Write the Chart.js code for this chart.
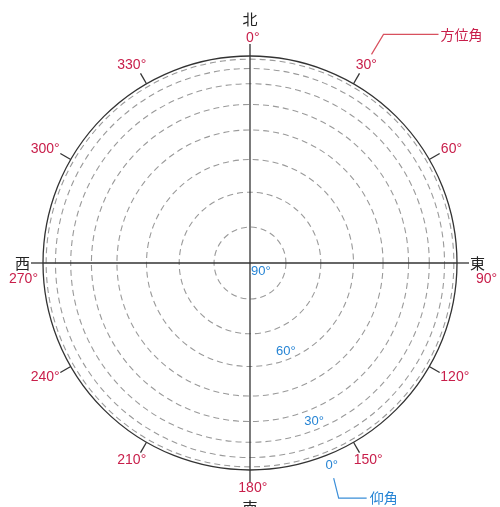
<!DOCTYPE html>
<html>
<head>
<meta charset="utf-8">
<script src="https://cdn.jsdelivr.net/npm/chart.js@4.4.0/dist/chart.umd.min.js"></script>
<style>
  html, body { margin: 0; padding: 0; background: #fff; }
  #wrap { width: 500px; height: 507px; }
</style>
</head>
<body>
<div id="wrap"><canvas id="skyChart"></canvas></div>
<script>
// azimuth directions (clockwise from north)
var azimuths      = [0, 30, 60, 90, 120, 150, 180, 210, 240, 270, 300, 330];
var azimuthLabels = ['0°', '30°', '60°', '90°', '120°', '150°', '180°', '210°', '240°', '270°', '300°', '330°'];

// compass points
var compassAzimuths = [0, 90, 180, 270];
var compassLabels   = ['北', '東', '南', '西'];

// elevation rings (90 = zenith, 0 = horizon)
var elevations      = [90, 80, 70, 60, 50, 40, 30, 20, 10, 0];
var elevationTicks  = [90, 60, 30, 0];
var elevationTickAz = 158;

var azimuthTitle   = '方位角';
var elevationTitle = '仰角';

var RAD = Math.PI / 180;
var TICK_LEN = 12;
var RED = '#c81e4a';
var BLUE = '#2684d4';

// ── extra drawing: outer ticks, labels, leaders ──────────
var skyPlugin = {
  id: 'sky',
  afterDraw: function(chart) {
    var s = chart.scales.r;
    var ctx = chart.ctx;
    var R = s.drawingArea;
    ctx.save();

    // tick marks outside the horizon circle
    ctx.strokeStyle = '#333';
    ctx.lineWidth = 1.3;
    azimuths.forEach(function(az, i) {
      var a = s.getPointPosition(i, R);
      var b = s.getPointPosition(i, R + TICK_LEN);
      ctx.beginPath(); ctx.moveTo(a.x, a.y); ctx.lineTo(b.x, b.y); ctx.stroke();
    });

    // azimuth labels + compass letters
    var azFont = '14px "Liberation Sans", Arial, sans-serif';
    var cjkFont = '15px "Noto Sans CJK JP", sans-serif';
    ctx.textBaseline = 'middle';
    azimuths.forEach(function(az, i) {
      var txt = azimuthLabels[i];
      var p = s.getPointPosition(i, R + TICK_LEN);
      var sn = Math.sin(az * RAD), cs = Math.cos(az * RAD);
      ctx.font = azFont;
      var w = ctx.measureText(txt).width, h = 14;
      var k = compassAzimuths.indexOf(az);
      if (k < 0) {
        ctx.fillStyle = RED;
        ctx.textAlign = 'center';
        ctx.fillText(txt, p.x + sn * (w / 2 + 3), p.y - cs * (h / 2 + 2));
      } else if (Math.abs(cs) > 0.5) {
        var nw = ctx.measureText(txt.replace('°', '')).width;
        var cy = p.y - cs * (h / 2 - 1);
        ctx.fillStyle = RED;
        ctx.textAlign = 'left';
        ctx.fillText(txt, p.x - nw / 2, cy);
        ctx.font = cjkFont;
        ctx.fillStyle = '#222';
        ctx.textAlign = 'center';
        ctx.fillText(compassLabels[k], p.x, cy - cs * 19);
      } else {
        ctx.textAlign = sn > 0 ? 'left' : 'right';
        ctx.fillStyle = RED;
        ctx.fillText(txt, p.x + 7, p.y + 16);
        ctx.font = cjkFont;
        ctx.fillStyle = '#222';
        ctx.fillText(compassLabels[k], p.x + sn * 1, p.y);
      }
    });

    // elevation labels
    ctx.font = '13px "Liberation Sans", Arial, sans-serif';
    ctx.fillStyle = BLUE;
    var zeroPos = null;
    elevationTicks.forEach(function(e) {
      var r = s.getDistanceFromCenterForValue(Math.cos(e * RAD));
      var txt = e + '°';
      if (e === 90) {
        ctx.textAlign = 'left'; ctx.textBaseline = 'top';
        ctx.fillText(txt, s.xCenter + 1, s.yCenter + 2);
        return;
      }
      var d = e === 0 ? r + 11 : r - 8;
      var p = s.getPointPosition(0, d, elevationTickAz * RAD);
      ctx.textAlign = 'center'; ctx.textBaseline = 'middle';
      ctx.fillText(txt, p.x, p.y);
      if (e === 0) zeroPos = p;
    });

    // leader: azimuth
    var t = s.getPointPosition(1, R + TICK_LEN);
    ctx.strokeStyle = '#d8505e';
    ctx.lineWidth = 1.2;
    ctx.beginPath();
    ctx.moveTo(t.x + 12, t.y - 19);
    ctx.lineTo(t.x + 24, t.y - 39);
    ctx.lineTo(t.x + 79, t.y - 39);
    ctx.stroke();
    ctx.font = '14px "Noto Sans CJK JP", sans-serif';
    ctx.fillStyle = RED;
    ctx.textAlign = 'left'; ctx.textBaseline = 'middle';
    ctx.fillText(azimuthTitle, t.x + 81, t.y - 39);

    // leader: elevation
    if (zeroPos) {
      ctx.strokeStyle = '#3a8ed8';
      ctx.beginPath();
      ctx.moveTo(zeroPos.x + 2, zeroPos.y + 13);
      ctx.lineTo(zeroPos.x + 7, zeroPos.y + 33);
      ctx.lineTo(zeroPos.x + 35, zeroPos.y + 33);
      ctx.stroke();
      ctx.fillStyle = BLUE;
      ctx.fillText(elevationTitle, zeroPos.x + 38, zeroPos.y + 33);
    }
    ctx.restore();
  }
};

new Chart(document.getElementById('skyChart'), {
  type: 'radar',
  data: {
    labels: azimuthLabels,
    datasets: []
  },
  options: {
    responsive: true,
    maintainAspectRatio: false,
    animation: false,
    layout: { padding: { left: 43, right: 43, top: 56, bottom: 37 } },
    plugins: {
      legend: { display: false },
      tooltip: { enabled: false }
    },
    scales: {
      r: {
        min: 0, max: 1,
        startAngle: 0,
        afterBuildTicks: function(scale) {
          scale.ticks = elevations.map(function(e){ return { value: Math.cos(e * RAD) }; });
        },
        ticks: { display: false },
        pointLabels: { display: false },
        angleLines: {
          color: '#333',
          lineWidth: function(c) { return compassAzimuths.indexOf(azimuths[c.index]) >= 0 ? 1.3 : 0; }
        },
        grid: {
          circular: true,
          color: function(c) { return c.tick && c.tick.value > 0.999 ? '#333' : '#9a9a9a'; },
          lineWidth: function(c) { return c.tick && c.tick.value > 0.999 ? 1.3 : 1.1; }
        },
        border: {
          dash: function(c) { return c.tick && c.tick.value > 0.999 ? [] : [6, 4]; }
        }
      }
    }
  },
  plugins: [skyPlugin]
});
</script>
</body>
</html>
